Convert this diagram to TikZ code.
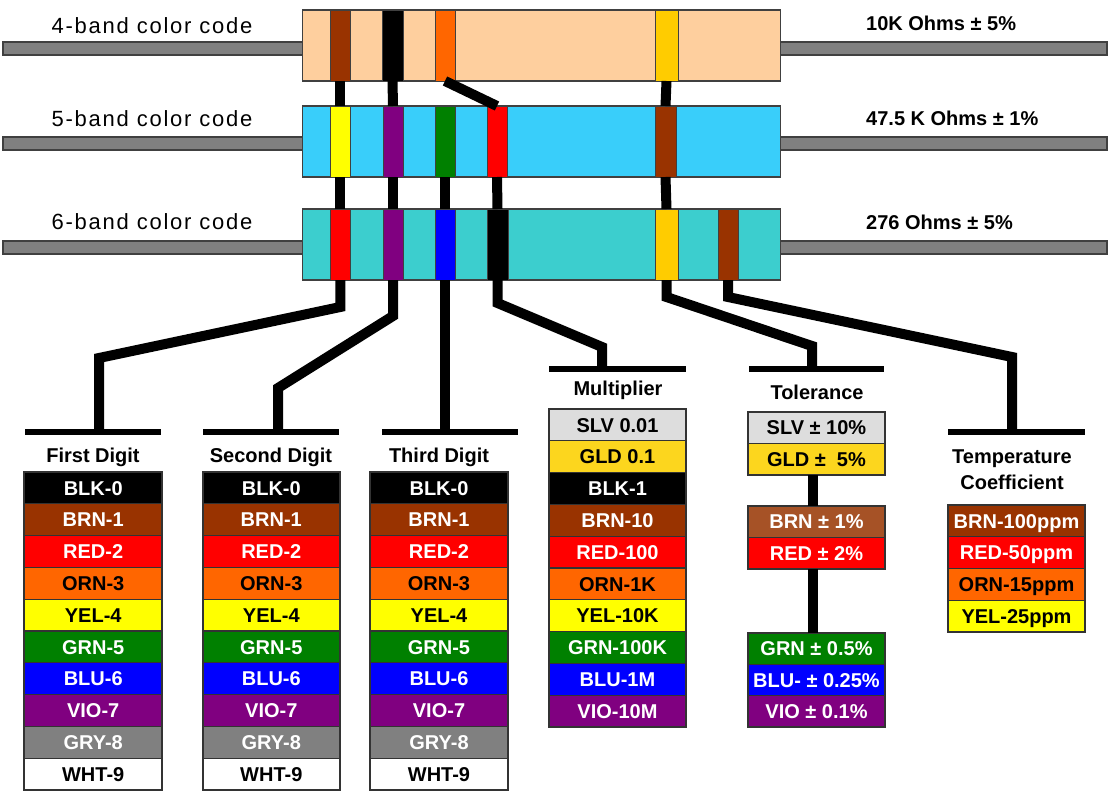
\documentclass[tikz,border=0pt]{standalone}
\usepackage{fontspec}
\setmainfont{Liberation Sans}
\newfontfamily\lblfont[LetterSpace=8]{Liberation Sans}
\definecolor{peach}{RGB}{254,207,158}
\definecolor{ccyan}{RGB}{57,206,250}
\definecolor{cteal}{RGB}{60,206,206}
\definecolor{cleadgray}{RGB}{128,128,128}
\definecolor{cblk}{RGB}{0,0,0}
\definecolor{cbrn}{RGB}{153,51,0}
\definecolor{cbrnl}{RGB}{166,82,38}
\definecolor{cred}{RGB}{255,0,0}
\definecolor{corn}{RGB}{255,102,0}
\definecolor{cyel}{RGB}{255,255,0}
\definecolor{cgrn}{RGB}{0,128,0}
\definecolor{cblu}{RGB}{0,0,255}
\definecolor{cvio}{RGB}{128,0,128}
\definecolor{cgry}{RGB}{128,128,128}
\definecolor{cgold}{RGB}{255,204,0}
\definecolor{cgld}{RGB}{252,214,30}
\definecolor{cslv}{RGB}{221,221,221}
\begin{document}
\begin{tikzpicture}[x=1pt,y=-1pt,
  lead/.style={draw=black!75, fill=cleadgray, line width=1.3pt},
  body/.style={draw=black!75, line width=1.3pt, minimum height=71pt, minimum width=478pt, inner sep=0pt, outer sep=0pt},
  band/.style={draw=black!75, line width=0.8pt, minimum height=71pt, minimum width=20pt, inner sep=0pt, outer sep=0pt},
  wire/.style={line width=10pt, line join=miter},
  tbar/.style={fill=black, minimum height=5.5pt, minimum width=137pt, inner sep=0pt, outer sep=0pt},
  row/.style={draw=black!80, line width=1pt, minimum height=31.7pt, minimum width=137.5pt, inner sep=0pt, outer sep=0pt, font=\bfseries\fontsize{20}{22}\selectfont, text height=14.3pt, text depth=0pt},
  frame/.style={draw=black!80, line width=2pt},
  head/.style={font=\bfseries\fontsize{20}{26}\selectfont, inner sep=0pt, text height=14.3pt, text depth=0pt},
  lbl/.style={font=\lblfont\fontsize{22}{24}\selectfont, inner sep=0pt},
  val/.style={font=\bfseries\fontsize{20}{22}\selectfont, anchor=west, inner sep=0pt, text height=14.3pt, text depth=0pt}
]
\fill[white] (0,0) rectangle (1111,795);

% leads
\draw[lead] (3,42) rectangle (302.7,55);
\draw[lead] (780.7,42) rectangle (1107,55);
\draw[lead] (3,137) rectangle (302.7,150);
\draw[lead] (780.7,137) rectangle (1107,150);
\draw[lead] (3,241) rectangle (302.7,254);
\draw[lead] (780.7,241) rectangle (1107,254);

% labels
\node[lbl] (l1) at (152,25.5) {4-band color code};
\node[lbl] (l2) at (152,119) {5-band color code};
\node[lbl] (l3) at (152,222) {6-band color code};
\node[val] (v1) at (866,23.5) {10K Ohms ± 5\%};
\node[val] (v2) at (866,118) {47.5 K Ohms ± 1\%};
\node[val] (v3) at (866,222) {276 Ohms ± 5\%};

% bodies
\node[body, fill=peach] (r1) at (541.7,45.5) {};
\node[body, fill=ccyan] (r2) at (541.7,141.5) {};
\node[body, fill=cteal] (r3) at (541.7,244.5) {};

% bands 4-band
\node[band, fill=cbrn] (a1) at (340.3,45.5) {};
\node[band, fill=cblk, minimum width=21pt] (a2) at (392.5,45.5) {};
\node[band, fill=corn] (a3) at (445,45.5) {};
\node[band, fill=cgold, minimum width=23pt] (a4) at (666.5,45.5) {};
% bands 5-band
\node[band, fill=cyel] (b1) at (340.3,141.5) {};
\node[band, fill=cvio] (b2) at (393,141.5) {};
\node[band, fill=cgrn] (b3) at (445,141.5) {};
\node[band, fill=cred] (b4) at (497,141.5) {};
\node[band, fill=cbrn, minimum width=21pt] (b5) at (665.5,141.5) {};
% bands 6-band
\node[band, fill=cred] (c1) at (340.3,244.5) {};
\node[band, fill=cvio] (c2) at (393,244.5) {};
\node[band, fill=cblu] (c3) at (445,244.5) {};
\node[band, fill=cblk, minimum width=21pt] (c4) at (497.5,244.5) {};
\node[band, fill=cgold, minimum width=23pt] (c5) at (666.5,244.5) {};
\node[band, fill=cbrn] (c6) at (728,244.5) {};

% wires between resistors
\draw[wire] (a1.south) -- (b1.north);
\draw[wire] (a2.south) -- (b2.north);
\draw[wire] (a3.south) -- (b4.north);
\draw[wire] (a4.south) -- (b5.north);
\draw[wire] (b1.south) -- (c1.north);
\draw[wire] (b2.south) -- (c2.north);
\draw[wire] (b3.south) -- (c3.north);
\draw[wire] (b4.south) -- (c4.north);
\draw[wire] (b5.south) -- (c5.north);

% T-bars
\node[tbar, minimum width=136pt] (bar1) at (93,432) {};
\node[tbar, minimum width=136pt] (bar2) at (271,432) {};
\node[tbar, minimum width=136pt] (bar3) at (450,432) {};
\node[tbar] (bar4) at (617.5,369) {};
\node[tbar, minimum width=135pt] (bar5) at (816.5,369) {};
\node[tbar] (bar6) at (1016.5,432) {};

% bends
\coordinate (k1a) at (340,307);
\coordinate (k1b) at (99,358);
\coordinate (k2a) at (393,316);
\coordinate (k2b) at (278,388);
\coordinate (k4a) at (497,303);
\coordinate (k4b) at (602,347);
\coordinate (k5a) at (666,297);
\coordinate (k5b) at (812,346);
\coordinate (k6a) at (728,297);
\coordinate (k6b) at (1012,357);

\draw[wire] (c1.south) -- (c1.south |- k1a) -- (k1b) -- (k1b |- bar1.center);
\draw[wire] (c2.south) -- (c2.south |- k2a) -- (k2b) -- (k2b |- bar2.center);
\draw[wire] (c3.south) -- (c3.south |- bar3.center);
\draw[wire] (c4.south) -- (c4.south |- k4a) -- (k4b) -- (k4b |- bar4.center);
\draw[wire] (c5.south) -- (c5.south |- k5a) -- (k5b) -- (k5b |- bar5.center);
\draw[wire] (c6.south) -- (c6.south |- k6a) -- (k6b) -- (k6b |- bar6.center);

% headers
\node[head] (h1) at (93,455.5) {First Digit};
\node[head] (h2) at (271,455.5) {Second Digit};
\node[head] (h3) at (439,455.5) {Third Digit};
\node[head] (h4) at (618,388.5) {Multiplier};
\node[head] (h5) at (817,392) {Tolerance};
\node[font=\bfseries\fontsize{20}{26}\selectfont, align=center, anchor=north, inner sep=0pt] (h6) at (1012,449.8) {Temperature\\Coefficient};

% digit tables
\foreach \tx/\tn in {93.2/fd, 271.3/sd, 439/td} {
  \foreach \lab/\col/\tc [count=\i from 0] in {BLK-0/cblk/white, BRN-1/cbrn/white, RED-2/cred/white, ORN-3/corn/black, YEL-4/cyel/black, GRN-5/cgrn/white, BLU-6/cblu/white, VIO-7/cvio/white, GRY-8/cgry/white, WHT-9/white/black}
    \node[row, fill=\col, text=\tc] (\tn\i) at (\tx, 487.9+\i*31.8) {\lab};
  \draw[frame] (\tn0.north west) rectangle (\tn9.south east);
}

% multiplier
\foreach \lab/\col/\tc [count=\i from 0] in {SLV 0.01/cslv/black, GLD 0.1/cgld/black, BLK-1/cblk/white, BRN-10/cbrn/white, RED-100/cred/white, ORN-1K/corn/black, YEL-10K/cyel/black, GRN-100K/cgrn/white, BLU-1M/cblu/white, VIO-10M/cvio/white}
  \node[row, fill=\col, text=\tc, minimum width=137pt] (m\i) at (617.5, 424.9+\i*31.8) {\lab};
\draw[frame] (m0.north west) rectangle (m9.south east);

% tolerance
\node[row, fill=cslv, minimum width=137pt, minimum height=31.5pt] (ta0) at (816.5,427.75) {SLV ± 10\%};
\node[row, fill=cgld, minimum width=137pt, minimum height=31.5pt] (ta1) at (816.5,459.25) {GLD ±\ \ 5\%};
\draw[frame] (ta0.north west) rectangle (ta1.south east);
\node[row, fill=cbrnl, text=white, minimum width=137pt, minimum height=31.5pt] (tb0) at (816.5,521.75) {BRN ± 1\%};
\node[row, fill=cred, text=white, minimum width=137pt, minimum height=31.5pt] (tb1) at (816.5,553.25) {RED ± 2\%};
\draw[frame] (tb0.north west) rectangle (tb1.south east);
\node[row, fill=cgrn, text=white, minimum width=137pt, minimum height=31.3pt] (tc0) at (816.5,648.65) {GRN ± 0.5\%};
\node[row, fill=cblu, text=white, minimum width=137pt, minimum height=31.3pt] (tc1) at (816.5,679.95) {BLU- ± 0.25\%};
\node[row, fill=cvio, text=white, minimum width=137pt, minimum height=31.3pt] (tc2) at (816.5,711.25) {VIO ± 0.1\%};
\draw[frame] (tc0.north west) rectangle (tc2.south east);
\draw[wire] ([xshift=-4pt]ta1.south) -- ([xshift=-4pt]tb0.north);
\draw[wire] ([xshift=-4pt]tb1.south) -- ([xshift=-4pt]tc0.north);

% temperature coefficient
\foreach \lab/\col/\tc [count=\i from 0] in {BRN-100ppm/cbrn/white, RED-50ppm/cred/white, ORN-15ppm/corn/black, YEL-25ppm/cyel/black}
  \node[row, fill=\col, text=\tc, minimum width=137pt, minimum height=31.75pt] (tp\i) at (1016.5, 520.9+\i*31.75) {\lab};
\draw[frame] (tp0.north west) rectangle (tp3.south east);
\end{tikzpicture}
\end{document}
